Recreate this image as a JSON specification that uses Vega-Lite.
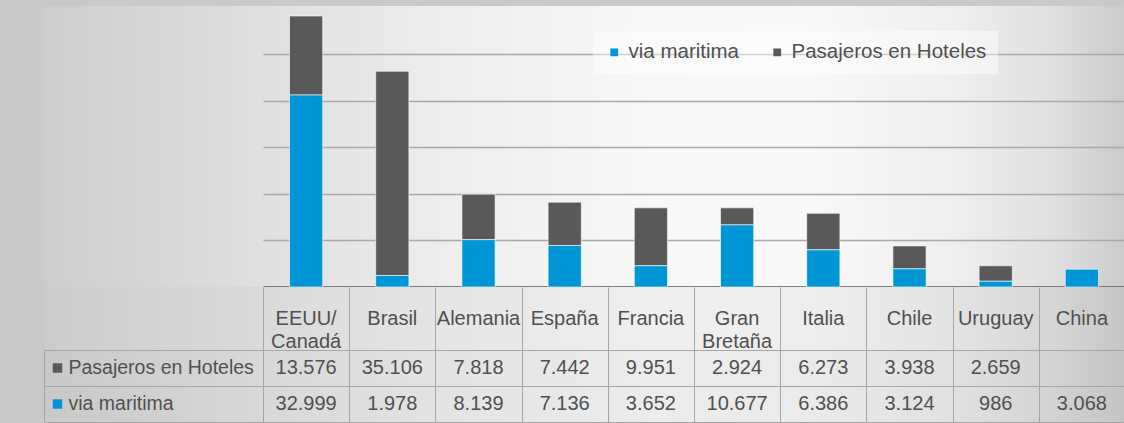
{
  "$schema": "https://vega.github.io/schema/vega-lite/v6.json",
  "padding": {"left": 43, "top": 6, "right": 0, "bottom": 0},
  "background": "#c9c9c9",
  "columns": 2,
  "spacing": 0,
  "bounds": "flush",
  "resolve": {"scale": {"color": "independent"}, "legend": {"color": "independent"}},
  "config": {
    "font": "Liberation Sans",
    "view": {"stroke": null},
    "locale": {"number": {"decimal": ",", "thousands": ".", "grouping": [3], "currency": ["", ""]}}
  },
  "datasets": {
    "valores": [
      {"pais": "EEUU/Canadá", "serie": "Pasajeros en Hoteles", "valor": 13576},
      {"pais": "Brasil", "serie": "Pasajeros en Hoteles", "valor": 35106},
      {"pais": "Alemania", "serie": "Pasajeros en Hoteles", "valor": 7818},
      {"pais": "España", "serie": "Pasajeros en Hoteles", "valor": 7442},
      {"pais": "Francia", "serie": "Pasajeros en Hoteles", "valor": 9951},
      {"pais": "Gran Bretaña", "serie": "Pasajeros en Hoteles", "valor": 2924},
      {"pais": "Italia", "serie": "Pasajeros en Hoteles", "valor": 6273},
      {"pais": "Chile", "serie": "Pasajeros en Hoteles", "valor": 3938},
      {"pais": "Uruguay", "serie": "Pasajeros en Hoteles", "valor": 2659},
      {"pais": "EEUU/Canadá", "serie": "via maritima", "valor": 32999},
      {"pais": "Brasil", "serie": "via maritima", "valor": 1978},
      {"pais": "Alemania", "serie": "via maritima", "valor": 8139},
      {"pais": "España", "serie": "via maritima", "valor": 7136},
      {"pais": "Francia", "serie": "via maritima", "valor": 3652},
      {"pais": "Gran Bretaña", "serie": "via maritima", "valor": 10677},
      {"pais": "Italia", "serie": "via maritima", "valor": 6386},
      {"pais": "Chile", "serie": "via maritima", "valor": 3124},
      {"pais": "Uruguay", "serie": "via maritima", "valor": 986},
      {"pais": "China", "serie": "via maritima", "valor": 3068}
    ],
    "paises": [
      {"pais": "EEUU/Canadá", "etiqueta": "EEUU/\nCanadá"},
      {"pais": "Brasil", "etiqueta": "Brasil"},
      {"pais": "Alemania", "etiqueta": "Alemania"},
      {"pais": "España", "etiqueta": "España"},
      {"pais": "Francia", "etiqueta": "Francia"},
      {"pais": "Gran Bretaña", "etiqueta": "Gran\nBretaña"},
      {"pais": "Italia", "etiqueta": "Italia"},
      {"pais": "Chile", "etiqueta": "Chile"},
      {"pais": "Uruguay", "etiqueta": "Uruguay"},
      {"pais": "China", "etiqueta": "China"}
    ],
    "filas": [
      {"serie": "Pasajeros en Hoteles"},
      {"serie": "via maritima"}
    ]
  },
  "concat": [
    {
      "width": 219,
      "height": 281,
      "data": {"name": "filas"},
      "view": {"stroke": null, "fill": {"gradient": "linear", "x1": 0, "y1": 0, "x2": 1, "y2": 0, "stops": [{"offset": 0, "color": "#cdcdcd"}, {"offset": 1, "color": "#e0e0e0"}]}},
      "mark": {"type": "text", "text": ""},
      "encoding": {}
    },
    {
      "width": 862,
      "height": 281,
      "data": {"name": "valores"},
      "view": {"stroke": null, "fill": {"gradient": "linear", "x1": 0, "y1": 0, "x2": 1, "y2": 0, "stops": [{"offset": 0, "color": "#e0e0e0"}, {"offset": 0.218, "color": "#eeeeee"}, {"offset": 0.45, "color": "#f8f8f8"}, {"offset": 0.624, "color": "#f9f9f9"}, {"offset": 0.798, "color": "#efefef"}, {"offset": 0.914, "color": "#e0e0e0"}, {"offset": 1, "color": "#cbcbcb"}]}},
      "mark": {"type": "bar", "width": {"band": 0.385}, "stroke": "#ffffff", "strokeWidth": 1, "strokeOpacity": 0.6},
      "encoding": {
        "x": {"field": "pais", "type": "nominal", "sort": ["EEUU/Canadá", "Brasil", "Alemania", "España", "Francia", "Gran Bretaña", "Italia", "Chile", "Uruguay", "China"], "scale": {"paddingInner": 0, "paddingOuter": 0}, "axis": {"title": null, "labels": false, "ticks": false, "grid": false, "domain": true, "domainColor": "#595959", "domainWidth": 2.5}},
        "y": {"field": "valor", "type": "quantitative", "stack": "zero", "scale": {"domain": [0, 48300], "nice": false}, "axis": {"title": null, "labels": false, "ticks": false, "domain": false, "grid": true, "values": [8000, 16000, 24000, 32000, 40000], "gridColor": "#a9a9a9", "gridWidth": 1.5}},
        "color": {"field": "serie", "type": "nominal", "scale": {"domain": ["via maritima", "Pasajeros en Hoteles"], "range": ["#0096d6", "#595959"]}, "legend": {"title": null, "orient": "none", "legendX": 330, "legendY": 25, "direction": "horizontal", "symbolType": "square", "symbolSize": 60, "symbolStrokeWidth": 0, "labelFontSize": 20.5, "labelColor": "#505050", "labelOffset": 4, "labelLimit": 400, "columnPadding": 28, "padding": 11, "fillColor": "rgba(255,255,255,0.45)"}},
        "order": {"field": "serie", "sort": "descending"}
      }
    },
    {
      "width": 219,
      "height": 63,
      "data": {"name": "filas"},
      "view": {"stroke": null, "fill": {"gradient": "linear", "x1": 0, "y1": 0, "x2": 1, "y2": 0, "stops": [{"offset": 0, "color": "#cbcbcb"}, {"offset": 1, "color": "#dadada"}]}},
      "mark": {"type": "text", "text": ""},
      "encoding": {}
    },
    {
      "width": 862,
      "height": 63,
      "data": {"name": "paises"},
      "view": {"stroke": null, "fill": {"gradient": "linear", "x1": 0, "y1": 0, "x2": 1, "y2": 0, "stops": [{"offset": 0, "color": "#dadada"}, {"offset": 0.218, "color": "#e6e6e6"}, {"offset": 0.45, "color": "#efefef"}, {"offset": 0.624, "color": "#eeeeee"}, {"offset": 0.798, "color": "#e4e4e4"}, {"offset": 0.914, "color": "#d6d6d6"}, {"offset": 1, "color": "#c6c6c6"}]}},
      "mark": {"type": "text", "fontSize": 20, "color": "#505050", "lineBreak": "\n", "lineHeight": 23, "baseline": "middle"},
      "encoding": {
        "x": {"field": "pais", "type": "nominal", "sort": ["EEUU/Canadá", "Brasil", "Alemania", "España", "Francia", "Gran Bretaña", "Italia", "Chile", "Uruguay", "China"], "scale": {"paddingInner": 0, "paddingOuter": 0}, "axis": {"title": null, "orient": "top", "labels": false, "ticks": false, "domain": false, "grid": true, "tickBand": "extent", "gridColor": "#a6a6a6", "gridWidth": 1}},
        "text": {"field": "etiqueta"}
      }
    },
    {
      "width": 219,
      "height": 72,
      "data": {"name": "filas"},
      "view": {"stroke": "#a6a6a6", "strokeWidth": 1, "fill": {"gradient": "linear", "x1": 0, "y1": 0, "x2": 1, "y2": 0, "stops": [{"offset": 0, "color": "#c9c9c9"}, {"offset": 1, "color": "#d8d8d8"}]}},
      "encoding": {
        "y": {"field": "serie", "type": "nominal", "sort": ["Pasajeros en Hoteles", "via maritima"], "scale": {"paddingInner": 0, "paddingOuter": 0}, "axis": {"title": null, "labels": false, "ticks": false, "domain": false, "grid": true, "tickBand": "extent", "gridColor": "#a6a6a6", "gridWidth": 1}}
      },
      "layer": [
        {
          "mark": {"type": "point", "shape": "square", "filled": true, "opacity": 1, "size": 90, "xOffset": -96},
          "encoding": {"color": {"field": "serie", "type": "nominal", "scale": {"domain": ["via maritima", "Pasajeros en Hoteles"], "range": ["#0096d6", "#595959"]}, "legend": null}}
        },
        {
          "mark": {"type": "text", "align": "left", "baseline": "middle", "dx": -85, "fontSize": 19.5, "color": "#505050"},
          "encoding": {"text": {"field": "serie"}}
        }
      ]
    },
    {
      "width": 862,
      "height": 72,
      "data": {"name": "valores"},
      "view": {"stroke": "#a6a6a6", "strokeWidth": 1, "fill": {"gradient": "linear", "x1": 0, "y1": 0, "x2": 1, "y2": 0, "stops": [{"offset": 0, "color": "#d8d8d8"}, {"offset": 0.218, "color": "#e4e4e4"}, {"offset": 0.45, "color": "#ececec"}, {"offset": 0.624, "color": "#ebebeb"}, {"offset": 0.798, "color": "#e1e1e1"}, {"offset": 0.914, "color": "#d3d3d3"}, {"offset": 1, "color": "#c4c4c4"}]}},
      "mark": {"type": "text", "fontSize": 20, "color": "#505050", "baseline": "middle"},
      "encoding": {
        "x": {"field": "pais", "type": "nominal", "sort": ["EEUU/Canadá", "Brasil", "Alemania", "España", "Francia", "Gran Bretaña", "Italia", "Chile", "Uruguay", "China"], "scale": {"paddingInner": 0, "paddingOuter": 0}, "axis": {"title": null, "labels": false, "ticks": false, "domain": false, "grid": true, "tickBand": "extent", "gridColor": "#a6a6a6", "gridWidth": 1}},
        "y": {"field": "serie", "type": "nominal", "sort": ["Pasajeros en Hoteles", "via maritima"], "scale": {"paddingInner": 0, "paddingOuter": 0}, "axis": {"title": null, "labels": false, "ticks": false, "domain": false, "grid": true, "tickBand": "extent", "gridColor": "#a6a6a6", "gridWidth": 1}},
        "text": {"field": "valor", "type": "quantitative", "format": ",d"}
      }
    }
  ]
}
